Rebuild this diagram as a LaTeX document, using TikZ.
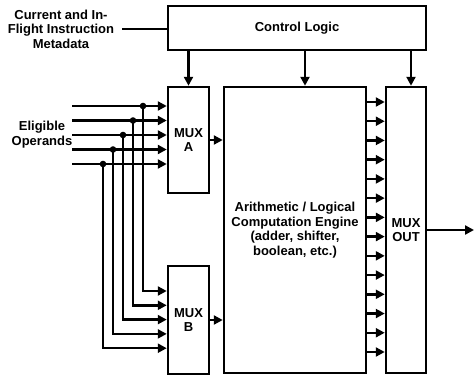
\documentclass[tikz,border=0pt]{standalone}
\usepackage{fontspec}
\setmainfont{Liberation Sans}
\usetikzlibrary{arrows.meta, positioning}

\begin{document}
\begin{tikzpicture}[x=1pt, y=1pt, line width=2.5pt,
  blk/.style={draw, inner sep=0pt, align=center,
    font=\bfseries\fontsize{13}{14.5}\selectfont},
  lbl/.style={align=center, inner sep=2pt,
    font=\bfseries\fontsize{13}{14.5}\selectfont},
  arr/.style={-{Triangle[length=9pt,width=9pt]}}]
  \useasboundingbox (0,0) rectangle (474,376);

  \node[blk, minimum width=258, minimum height=44] (ctrl)   at (297,348)   {Control Logic};
  \node[blk, minimum width=41,  minimum height=106] (muxa)  at (188.5,236) {MUX\\A};
  \node[blk, minimum width=41,  minimum height=108] (muxb)  at (188.5,56)  {MUX\\B};
  \node[blk, minimum width=142, minimum height=286] (engine) at (295,146)  {Arithmetic / Logical\\Computation Engine\\(adder, shifter,\\boolean, etc.)};
  \node[blk, minimum width=40,  minimum height=286] (muxout) at (406,146)  {MUX\\OUT};

  \node[lbl] (meta) at (61,347)  {Current and In-\\Flight Instruction\\Metadata};
  \node[lbl] (ops)  at (42,241.5) {Eligible\\Operands};

  \draw ([xshift=5]meta.east) -- (meta.east -| ctrl.west);

  % control signals
  \draw[arr] (ctrl.south -| muxa.north) -- (muxa.north);
  \draw[arr] ([xshift=10]engine.north |- ctrl.south) -- ([xshift=10]engine.north);
  \draw[arr] ([xshift=5]muxout.north |- ctrl.south) -- ([xshift=5]muxout.north);

  % operands to both muxes
  \foreach \i in {0,...,4}{
    \pgfmathsetmacro{\ya}{270-14.5*\i}
    \pgfmathsetmacro{\yb}{85-14.3*\i}
    \pgfmathsetmacro{\xj}{143-10*\i}
    \coordinate (in\i) at (72,\ya);
    \coordinate (jn\i) at (\xj,\ya);
    \coordinate (bn\i) at (\xj,\yb);
    \draw[arr] (in\i) -- (in\i -| muxa.west);
    \draw[arr] (jn\i) -- (bn\i) -- (bn\i -| muxb.west);
    \fill (jn\i) circle (3.3);
  }

  \draw[arr] (muxa.east) -- (muxa.east -| engine.west);
  \draw[arr] (muxb.east) -- (muxb.east -| engine.west);

  % engine results
  \foreach \k in {0,...,13}{
    \pgfmathsetmacro{\yk}{274-19.23*\k}
    \coordinate (r\k) at (0,\yk);
    \draw[arr] (engine.east |- r\k) -- (muxout.west |- r\k);
  }

  \coordinate (out) at (474,146);
  \draw[arr] (muxout.east) -- (out);
\end{tikzpicture}
\end{document}
